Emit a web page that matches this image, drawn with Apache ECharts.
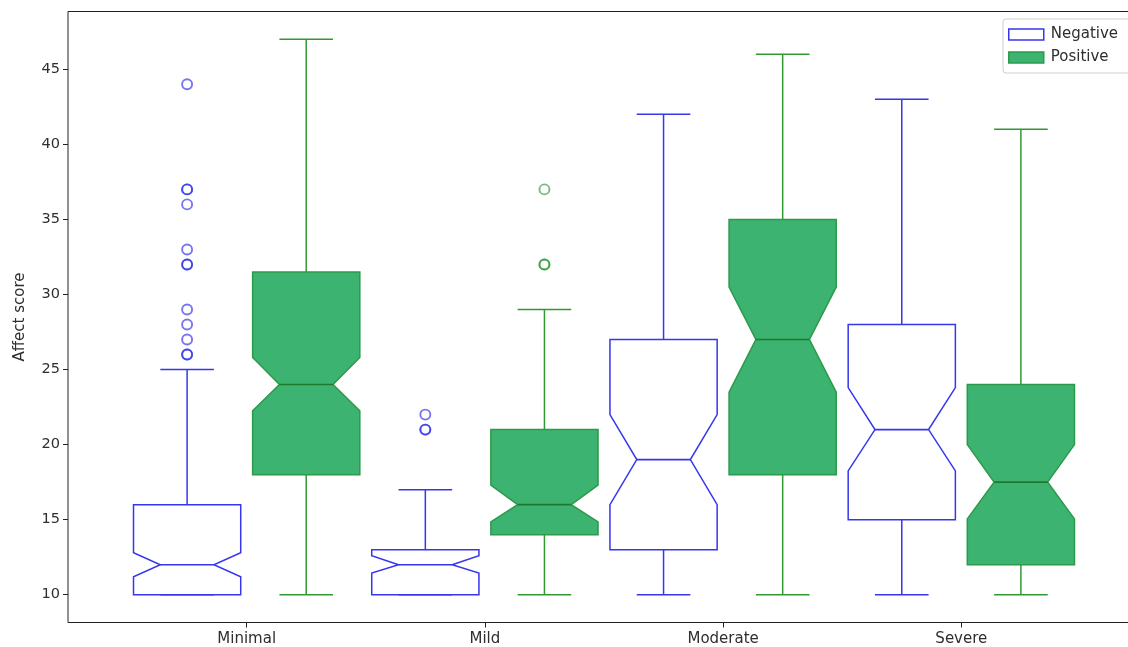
<!DOCTYPE html>
<html>
<head>
<meta charset="utf-8">
<script src="https://cdn.jsdelivr.net/npm/echarts@6/dist/echarts.min.js"></script>
<style>
  html, body { margin: 0; padding: 0; background: #fff; overflow: hidden; width: 1128px; height: 647px; }
  /* the plot frame runs slightly past the right edge of the page */
  #chart { width: 1140px; height: 647px; }
</style>
</head>
<body>
<div id="chart"></div>
<script>
// Affect scores by depression severity, split by Negative / Positive affect.
const categories = ['Minimal', 'Mild', 'Moderate', 'Severe'];
const yTicks = [10, 15, 20, 25, 30, 35, 40, 45];

// Negative affect: whiskers, quartiles, notch bounds, medians, outliers
const negWhiskerLow  = [10, 10, 10, 10];
const negQ1          = [10, 10, 13, 15];
const negNotchLow    = [11.2, 11.45, 16, 18.25];
const negMedian      = [12, 12, 19, 21];
const negNotchHigh   = [12.8, 12.6, 22, 23.8];
const negQ3          = [16, 13, 27, 28];
const negWhiskerHigh = [25, 17, 42, 43];
const negOutliers    = [[44, 37, 37, 36, 33, 32, 32, 29, 28, 27, 26, 26], [22, 21, 21], [], []];

// Positive affect
const posWhiskerLow  = [10, 10, 10, 10];
const posQ1          = [18, 14, 18, 12];
const posNotchLow    = [22.25, 14.85, 23.5, 15.05];
const posMedian      = [24, 16, 27, 17.5];
const posNotchHigh   = [25.8, 17.3, 30.5, 20];
const posQ3          = [31.5, 21, 35, 24];
const posWhiskerHigh = [47, 29, 46, 41];
const posOutliers    = [[], [37, 32, 32], [], []];

const BLUE = '#3636ee';
const GREEN_FILL = '#3cb371';
const GREEN_EDGE = '#2c9a48';
const GREEN_LINE = '#329832';
const GREEN_MED = '#1d7a2c';
const TEXT = '#2e2e2e';
const FONT = 'DejaVu Sans';

const BOX_WIDTH = 0.45;
const OFFSET = 0.25;

function boxRows(shift, lo, q1, nlo, med, nhi, q3, hi) {
  return categories.map((c, i) => [i + 1 + shift, lo[i], q1[i], nlo[i], med[i], nhi[i], q3[i], hi[i]]);
}
function outlierRows(shift, groups) {
  const rows = [];
  groups.forEach((g, i) => g.forEach(v => rows.push([i + 1 + shift, v])));
  return rows;
}

function makeRenderer(look) {
  return function (params, api) {
    const x = api.value(0);
    const v = k => api.value(k);
    const Y = val => api.coord([x, val])[1];
    const cx = api.coord([x, v(4)])[0];
    const hw = api.size([BOX_WIDTH, 0])[0] / 2;
    const L = cx - hw, R = cx + hw, nl = cx - hw / 2, nr = cx + hw / 2;
    const yLo = Y(v(1)), yQ1 = Y(v(2)), yNLo = Y(v(3)), yMed = Y(v(4)),
          yNHi = Y(v(5)), yQ3 = Y(v(6)), yHi = Y(v(7));
    const lineStyle = { stroke: look.line, lineWidth: 1.5 };
    const capHw = hw / 2;
    return {
      type: 'group',
      children: [
        { type: 'line', shape: { x1: cx, y1: yQ1, x2: cx, y2: yLo }, style: lineStyle },
        { type: 'line', shape: { x1: cx, y1: yQ3, x2: cx, y2: yHi }, style: lineStyle },
        { type: 'line', shape: { x1: cx - capHw, y1: yLo, x2: cx + capHw, y2: yLo }, style: lineStyle },
        { type: 'line', shape: { x1: cx - capHw, y1: yHi, x2: cx + capHw, y2: yHi }, style: lineStyle },
        {
          type: 'polygon',
          shape: {
            points: [
              [L, yQ1], [R, yQ1], [R, yNLo], [nr, yMed], [R, yNHi], [R, yQ3],
              [L, yQ3], [L, yNHi], [nl, yMed], [L, yNLo]
            ]
          },
          style: { fill: look.fill, stroke: look.edge, lineWidth: 1.5 }
        },
        { type: 'line', shape: { x1: nl, y1: yMed, x2: nr, y2: yMed }, style: { stroke: look.median, lineWidth: 1.6 } }
      ]
    };
  };
}

const chart = echarts.init(document.getElementById('chart'), null, { renderer: 'canvas' });

chart.setOption({
  animation: false,
  backgroundColor: '#fff',
  textStyle: { fontFamily: FONT },
  grid: {
    left: 68, right: 0, top: 11.5, bottom: 24.5,
    show: true, borderColor: '#222', borderWidth: 1, backgroundColor: 'transparent'
  },
  legend: {
    left: 1003, top: 19,
    orient: 'vertical',
    icon: 'rect',
    itemWidth: 35, itemHeight: 11, itemGap: 8,
    padding: [8, 12, 8, 5],
    borderColor: '#cfcfcf', borderWidth: 1, borderRadius: 3,
    backgroundColor: 'rgba(255,255,255,0.85)',
    textStyle: { fontFamily: FONT, fontSize: 15, color: TEXT, lineHeight: 15, padding: [0, 0, 0, 2] },
    data: [
      { name: 'Negative', itemStyle: { color: '#fff', borderColor: BLUE, borderWidth: 1.5 } },
      { name: 'Positive', itemStyle: { color: GREEN_FILL, borderColor: GREEN_EDGE, borderWidth: 1.5 } }
    ]
  },
  xAxis: {
    type: 'value',
    min: 0.25, max: 4.75,
    splitLine: { show: false },
    axisLine: { show: false },
    axisTick: { show: true, length: 5, customValues: [1, 2, 3, 4], lineStyle: { color: '#222' } },
    axisLabel: {
      customValues: [1, 2, 3, 4],
      formatter: val => categories[Math.round(val) - 1] || '',
      fontFamily: FONT, fontSize: 15, color: TEXT, margin: 9
    }
  },
  yAxis: {
    type: 'value',
    min: 8.15, max: 48.85,
    name: 'Affect score',
    nameLocation: 'middle',
    nameRotate: 90,
    nameGap: 40,
    nameTextStyle: { fontFamily: FONT, fontSize: 15, color: TEXT },
    splitLine: { show: false },
    axisLine: { show: false },
    axisTick: { show: true, length: 5, customValues: yTicks, lineStyle: { color: '#222' } },
    axisLabel: {
      customValues: yTicks,
      fontFamily: FONT, fontSize: 14.5, color: TEXT, margin: 8
    }
  },
  series: [
    {
      name: 'Negative',
      type: 'custom',
      renderItem: makeRenderer({ fill: '#fff', edge: BLUE, line: BLUE, median: BLUE }),
      itemStyle: { color: '#fff', borderColor: BLUE },
      encode: { x: 0, y: [1, 2, 3, 4, 5, 6, 7] },
      data: boxRows(-OFFSET, negWhiskerLow, negQ1, negNotchLow, negMedian, negNotchHigh, negQ3, negWhiskerHigh),
      z: 2
    },
    {
      name: 'Positive',
      type: 'custom',
      renderItem: makeRenderer({ fill: GREEN_FILL, edge: GREEN_EDGE, line: GREEN_LINE, median: GREEN_MED }),
      itemStyle: { color: GREEN_FILL, borderColor: GREEN_EDGE },
      encode: { x: 0, y: [1, 2, 3, 4, 5, 6, 7] },
      data: boxRows(OFFSET, posWhiskerLow, posQ1, posNotchLow, posMedian, posNotchHigh, posQ3, posWhiskerHigh),
      z: 2
    },
    {
      name: 'Negative outliers',
      type: 'scatter',
      symbol: 'circle',
      symbolSize: 10,
      itemStyle: { color: 'transparent', borderColor: 'rgba(40,40,235,0.8)', borderWidth: 1.9 },
      data: outlierRows(-OFFSET, negOutliers),
      z: 3
    },
    {
      name: 'Positive outliers',
      type: 'scatter',
      symbol: 'circle',
      symbolSize: 10,
      itemStyle: { color: 'transparent', borderColor: 'rgba(40,150,50,0.8)', borderWidth: 1.9 },
      data: outlierRows(OFFSET, posOutliers),
      z: 3
    }
  ]
});
</script>
</body>
</html>
